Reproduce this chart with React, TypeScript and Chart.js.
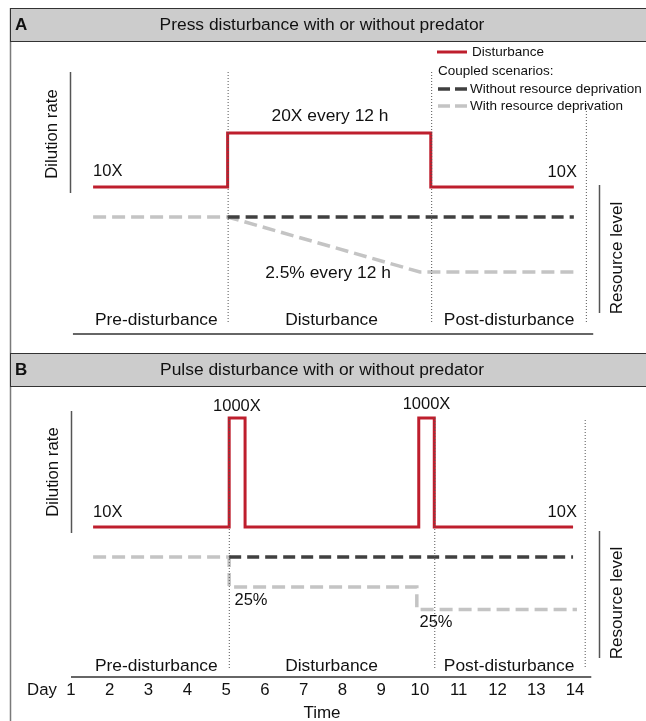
import React, { useEffect, useRef } from 'react';
import { Chart, registerables } from 'chart.js';

Chart.register(...registerables);

const W = 646;
const H = 721;
const FONT = '"Liberation Sans", Arial, Helvetica, sans-serif';

// ---- data ----
const dayTicks = [1, 2, 3, 4, 5, 6, 7, 8, 9, 10, 11, 12, 13, 14];
const phaseNames = ['Pre-disturbance', 'Disturbance', 'Post-disturbance'];
const phaseLabelDays = [3.2, 7.72, 12.3];

// Panel A: press disturbance
const pressRateDays = [1.57, 5.04, 5.04, 10.28, 10.28, 13.97];
const pressRateValues = [10, 10, 20, 20, 10, 10];
const pressNoDepDays = [5.04, 13.97];
const pressNoDepValues = [100, 100];
const pressDepDays = [1.57, 5.04, 10.0, 13.99];
const pressDepValues = [100, 100, 77.6, 77.6];
const pressBounds = [5.04, 10.29, 14.28];

// Panel B: pulse disturbance
const pulseRateDays = [1.57, 5.08, 5.08, 5.49, 5.49, 9.97, 9.97, 10.37, 10.37, 13.95];
const pulseRateValues = [10, 10, 1000, 1000, 10, 10, 1000, 1000, 10, 10];
const pulseNoDepDays = [5.08, 13.95];
const pulseNoDepValues = [100, 100];
const pulseDepDays = [1.57, 5.08, 5.08, 9.92, 9.92, 14.05];
const pulseDepValues = [100, 100, 75, 75, 56.25, 56.25];
const pulseBounds = [5.07, 10.37, 14.25];

const RED = '#be1e2d';
const DARK = '#404040';
const LIGHT = '#c4c4c4';

function fitY(v1: number, p1: number, v2: number, p2: number) {
  const s = (p2 - p1) / (v1 - v2);
  const max = v1 + p1 / s;
  return { min: max - H / s, max };
}
function fitX(v1: number, p1: number, v2: number, p2: number) {
  const s = (p2 - p1) / (v2 - v1);
  const min = v1 - p1 / s;
  return { min, max: min + W / s };
}

const pts = (xs: number[], ys: number[]) => xs.map((x, i) => ({ x, y: ys[i] }));

const overlay = {
  id: 'overlay',
  afterDraw(chart: any) {
    const ctx: CanvasRenderingContext2D = chart.ctx;
    const xs = chart.scales.x;
    const X = (d: number) => xs.getPixelForValue(d);
    const S = chart.scales;
    ctx.save();

    const line = (x1: number, y1: number, x2: number, y2: number, color: string, lw: number, dash: number[] = []) => {
      ctx.beginPath();
      ctx.setLineDash(dash);
      ctx.strokeStyle = color;
      ctx.lineWidth = lw;
      ctx.moveTo(x1, y1);
      ctx.lineTo(x2, y2);
      ctx.stroke();
      ctx.setLineDash([]);
    };
    const text = (t: string, x: number, y: number, size: number, align: CanvasTextAlign = 'center', bold = false, rot = 0) => {
      ctx.save();
      ctx.font = `${bold ? 'bold ' : ''}${size}px ${FONT}`;
      ctx.fillStyle = '#111';
      ctx.textAlign = align;
      ctx.textBaseline = 'middle';
      ctx.translate(x, y);
      if (rot) ctx.rotate(rot);
      ctx.fillText(t, 0, 0);
      ctx.restore();
    };

    // outer left border
    line(10.5, 8, 10.5, H, '#7a7a7a', 1.5);

    // headers
    const headers = [
      { y0: 8, letter: 'A', title: 'Press disturbance with or without predator' },
      { y0: 353, letter: 'B', title: 'Pulse disturbance with or without predator' },
    ];
    headers.forEach((h) => {
      ctx.fillStyle = '#cccccc';
      ctx.fillRect(10, h.y0, W - 10, 33);
      line(10, h.y0 + 0.5, W, h.y0 + 0.5, '#333', 1);
      line(10, h.y0 + 33.5, W, h.y0 + 33.5, '#333', 1);
      line(10.5, h.y0, 10.5, h.y0 + 34, '#333', 1);
      text(h.letter, 15, h.y0 + 17, 17, 'left', true);
      text(h.title, 322, h.y0 + 17, 17.4);
    });

    // vertical dotted phase boundaries
    const dot = [1, 2];
    line(X(pressBounds[0]) + 0.5, 72, X(pressBounds[0]) + 0.5, 322, '#555', 1, dot);
    line(X(pressBounds[1]) + 0.5, 72, X(pressBounds[1]) + 0.5, 322, '#555', 1, dot);
    line(X(pressBounds[2]) + 0.5, 105, X(pressBounds[2]) + 0.5, 322, '#555', 1, dot);
    line(X(pulseBounds[0]) + 0.5, 418, X(pulseBounds[0]) + 0.5, 668, '#555', 1, dot);
    line(X(pulseBounds[1]) + 0.5, 418, X(pulseBounds[1]) + 0.5, 668, '#555', 1, dot);
    line(X(pulseBounds[2]) + 0.5, 420, X(pulseBounds[2]) + 0.5, 668, '#555', 1, dot);

    // baselines
    line(X(1.05), 334, X(14.47), 334, '#333', 1.5);
    line(X(1.0), 677, X(14.42), 677, '#333', 1.5);

    // axis bars + titles
    line(70.5, 72, 70.5, 193, '#555', 1.5);
    text('Dilution rate', 52, 134, 16.8, 'center', false, -Math.PI / 2);
    line(599.5, 185, 599.5, 313, '#555', 1.5);
    text('Resource level', 617, 258, 17, 'center', false, -Math.PI / 2);
    line(71.5, 411, 71.5, 533, '#555', 1.5);
    text('Dilution rate', 53, 472, 16.8, 'center', false, -Math.PI / 2);
    line(599.5, 531, 599.5, 658, '#555', 1.5);
    text('Resource level', 617, 603, 17, 'center', false, -Math.PI / 2);

    // legend
    line(437, 52, 467, 52, RED, 3);
    text('Disturbance', 472, 52, 13.5, 'left');
    text('Coupled scenarios:', 438, 71, 13.5, 'left');
    line(438, 89, 467, 89, DARK, 3.5, [12, 5]);
    text('Without resource deprivation', 470, 89, 13.5, 'left');
    line(438, 106, 467, 106, LIGHT, 3.5, [12, 5]);
    text('With resource deprivation', 470, 106, 13.5, 'left');

    // annotations panel A
    const yAr = S.yPressRate, yAs = S.yPressRes;
    text('10X', X(pressRateDays[0]), yAr.getPixelForValue(10) - 16, 16.5, 'left');
    text('10X', X(14.05), yAr.getPixelForValue(10) - 15, 16.5, 'right');
    text('20X every 12 h', 330, yAr.getPixelForValue(20) - 17, 17.4);
    text('2.5% every 12 h', 328, yAs.getPixelForValue(77.6) + 1, 17.4);
    phaseNames.forEach((n, i) => text(n, X(phaseLabelDays[i]), 320, 17.4));

    // annotations panel B
    const yBr = S.yPulseRate, yBs = S.yPulseRes;
    text('10X', X(pulseRateDays[0]), yBr.getPixelForValue(10) - 15, 16.5, 'left');
    text('10X', X(14.05), yBr.getPixelForValue(10) - 15, 16.5, 'right');
    text('1000X', X(5.28), yBr.getPixelForValue(1000) - 12, 16.5);
    text('1000X', X(10.17), yBr.getPixelForValue(1000) - 14, 16.5);
    text('25%', 251, yBs.getPixelForValue(75) + 13, 16.5);
    text('25%', 436, yBs.getPixelForValue(56.25) + 13, 16.5);
    phaseNames.forEach((n, i) => text(n, X(phaseLabelDays[i]), 666, 17.4));

    // day axis
    text('Day', 42, 690, 16.8);
    dayTicks.forEach((d) => text(String(d), X(d), 690, 16.8));
    text('Time', 322, 713, 17);

    ctx.restore();
  },
};

export default function App() {
  const ref = useRef<HTMLCanvasElement>(null);
  useEffect(() => {
    document.body.style.margin = '0';
    const canvas = ref.current!;
    const xr = fitX(1, 71, 14, 575);
    const chart = new Chart(canvas, {
      type: 'line',
      data: {
        datasets: [
          { data: pts(pressRateDays, pressRateValues), yAxisID: 'yPressRate', borderColor: RED, borderWidth: 3 },
          { data: pts(pressNoDepDays, pressNoDepValues), yAxisID: 'yPressRes', borderColor: DARK, borderWidth: 3.5, borderDash: [12, 6] },
          { data: pts(pressDepDays, pressDepValues), yAxisID: 'yPressRes', borderColor: LIGHT, borderWidth: 3.5, borderDash: [13, 6] },
          { data: pts(pulseRateDays, pulseRateValues), yAxisID: 'yPulseRate', borderColor: RED, borderWidth: 3 },
          { data: pts(pulseNoDepDays, pulseNoDepValues), yAxisID: 'yPulseRes', borderColor: DARK, borderWidth: 3.5, borderDash: [12, 6] },
          { data: pts(pulseDepDays, pulseDepValues), yAxisID: 'yPulseRes', borderColor: LIGHT, borderWidth: 3.5, borderDash: [13, 6] },
        ] as any,
      },
      options: {
        responsive: false,
        maintainAspectRatio: false,
        animation: false,
        devicePixelRatio: 1,
        layout: { padding: 0 },
        elements: { point: { radius: 0, hoverRadius: 0 }, line: { tension: 0, borderJoinStyle: 'miter', borderCapStyle: 'butt', fill: false } },
        plugins: { legend: { display: false }, tooltip: { enabled: false } },
        events: [],
        scales: {
          x: { type: 'linear', display: false, min: xr.min, max: xr.max },
          yPressRate: { type: 'linear', display: false, ...fitY(20, 133, 10, 187) },
          yPressRes: { type: 'linear', display: false, ...fitY(100, 217, 77.6, 272) },
          yPulseRate: { type: 'linear', display: false, ...fitY(1000, 418, 10, 527) },
          yPulseRes: { type: 'linear', display: false, ...fitY(100, 557, 75, 587) },
        } as any,
      },
      plugins: [overlay],
    });
    return () => chart.destroy();
  }, []);
  return (
    <div style={{ width: W, height: H, background: '#fff' }}>
      <canvas ref={ref} width={W} height={H} style={{ display: 'block' }} />
    </div>
  );
}
